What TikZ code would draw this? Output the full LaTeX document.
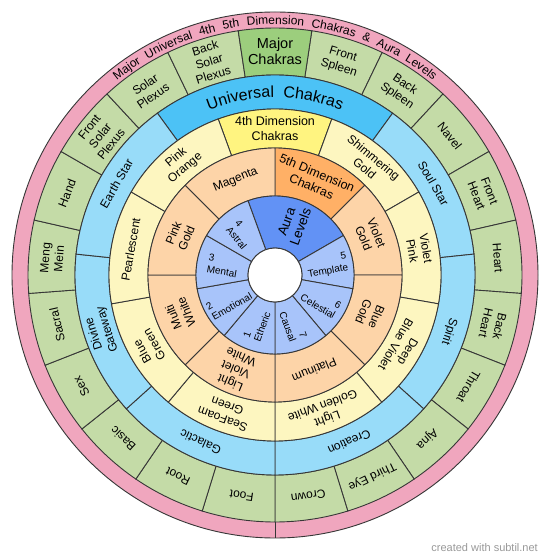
\documentclass[tikz,border=0pt]{standalone}
\usepackage{fontspec}
\setmainfont{Liberation Sans}
\usetikzlibrary{decorations.text}
\definecolor{pinkc}{RGB}{240,166,190}
\definecolor{greenl}{RGB}{196,219,167}
\definecolor{greend}{RGB}{156,206,125}
\definecolor{bluel}{RGB}{152,220,249}
\definecolor{blued}{RGB}{76,194,246}
\definecolor{yell}{RGB}{253,246,192}
\definecolor{yeld}{RGB}{255,244,128}
\definecolor{peachl}{RGB}{253,212,168}
\definecolor{peachd}{RGB}{255,176,102}
\definecolor{aural}{RGB}{168,196,250}
\definecolor{aurad}{RGB}{98,146,245}
\definecolor{edge}{RGB}{55,55,55}
\newcommand\ringsec[5]{\filldraw[fill=#1,draw=edge,line width=0.9pt] (#2:#4pt) arc[start angle=#2,end angle=#3,radius=#4pt] -- (#3:#5pt) arc[start angle=#3,end angle=#2,radius=#5pt] -- cycle;}
\newcommand\tsp{\hskip 7.4pt}
\newcommand\usp{\hskip 9pt}
\tikzset{
  lbl/.style={align=center,inner sep=0pt,font=\fontsize{12}{14}\selectfont},
  biglbl/.style={align=center,inner sep=0pt,font=\fontsize{14.5}{16.5}\selectfont},
  dimlbl/.style={align=center,inner sep=0pt,font=\fontsize{12.5}{14.5}\selectfont},
  albl/.style={inner sep=0pt,font=\fontsize{10}{11.5}\selectfont},
}
\begin{document}
\begin{tikzpicture}
\fill[white] (0,0) rectangle (550pt,560pt);
\useasboundingbox (0,0) rectangle (550pt,560pt);
\begin{scope}[shift={(275pt,285pt)}]
% pink outer ring
\filldraw[fill=pinkc,draw=edge,line width=0.9pt] (0,0) circle[radius=263pt];
\draw[edge,line width=0.9pt] (-90:247pt) -- (-90:263pt);
% green ring
\foreach \k in {1,...,20}{
  \pgfmathsetmacro\a{98.5714-17.142857*\k}
  \pgfmathsetmacro\b{\a-17.142857}
  \ringsec{greenl}{\a}{\b}{247}{200}
}
\ringsec{greend}{98.5714}{81.4286}{247}{200}
% blue ring
\ringsec{blued}{126}{54}{200}{166}
\foreach \k in {0,...,5}{
  \pgfmathsetmacro\a{54-48*\k}
  \pgfmathsetmacro\b{\a-48}
  \ringsec{bluel}{\a}{\b}{200}{166}
}
% yellow ring
\ringsec{yeld}{110}{70}{166}{127}
\foreach \k in {0,...,7}{
  \pgfmathsetmacro\a{70-40*\k}
  \pgfmathsetmacro\b{\a-40}
  \ringsec{yell}{\a}{\b}{166}{127}
}
% peach ring
\ringsec{peachd}{90}{45}{127}{79}
\foreach \k in {0,...,6}{
  \pgfmathsetmacro\a{45-45*\k}
  \pgfmathsetmacro\b{\a-45}
  \ringsec{peachl}{\a}{\b}{127}{79}
}
% aura ring
\ringsec{aurad}{110}{30}{79}{27}
\foreach \k in {0,...,6}{
  \pgfmathsetmacro\a{30-40*\k}
  \pgfmathsetmacro\b{\a-40}
  \ringsec{aural}{\a}{\b}{79}{27}
}
\filldraw[fill=white,draw=edge,line width=0.9pt] (0,0) circle[radius=27pt];

% curved titles
\path[decorate,decoration={text along path,text align=center,
  text={|\fontsize{12}{12}\selectfont|Major{\tsp}Universal{\tsp}4th{\tsp}5th{\tsp}Dimension{\tsp}Chakras{\tsp}{\&}{\tsp}Aura{\tsp}Levels}}]
  (150:250.5pt) arc[start angle=150,end angle=30,radius=250.5pt];
\path[decorate,decoration={text along path,text align=center,
  text={|\fontsize{16}{16}\selectfont|Universal{\usp}Chakras}}]
  (140:177.5pt) arc[start angle=140,end angle=40,radius=177.5pt];

% green labels
\node[biglbl] (g0) at (90:223.5pt) {Major\\Chakras};
\foreach \i/\t in {1/{Front\\Spleen},2/{Back\\Spleen},3/{Navel},4/{Front\\Heart},5/{Heart},6/{Back\\Heart},7/{Throat},8/{Ajna},9/{Third Eye},10/{Crown},11/{Foot},12/{Root},13/{Basic},14/{Sex},15/{Sacral},16/{Meng\\Mein},17/{Hand},18/{Front\\Solar\\Plexus},19/{Solar\\Plexus},20/{Back\\Solar\\Plexus}}{
  \pgfmathsetmacro\a{90-17.142857*\i}
  \node[lbl,rotate=\a-90] (g\i) at (\a:223.5pt) {\t};
}
% blue labels
\foreach \n/\a/\t in {b1/30/{Soul Star},b2/-18/{Spirit},b3/-66/{Creation},b4/-114/{Galactic},b5/-162/{Divine\\Gateway},b6/150/{Earth Star}}{
  \node[lbl,rotate=\a-90] (\n) at (\a:183pt) {\t};
}
% yellow labels
\node[dimlbl] (y0) at (90:146.5pt) {4th Dimension\\Chakras};
\foreach \n/\a/\t in {y1/50/{Shimmering\\Gold},y2/10/{Violet\\Pink},y3/-30/{Deep\\Blue Violet},y4/-70/{Light\\Golden White},y5/-110/{SeaFoam\\Green},y6/-150/{Blue\\Green},y7/170/{Pearlescent},y8/130/{Pink\\Orange}}{
  \node[lbl,rotate=\a-90] (\n) at (\a:146.5pt) {\t};
}
% peach labels
\node[dimlbl,rotate=-22.5] (p0) at (67.5:103pt) {5th Dimension\\Chakras};
\foreach \n/\a/\t in {p1/22.5/{Violet\\Gold},p2/-22.5/{Blue\\Gold},p3/-67.5/{Platinum},p4/-112.5/{Light\\Violet\\White},p5/-157.5/{Multi\\White},p6/157.5/{Pink\\Gold},p7/112.5/{Magenta}}{
  \node[lbl,rotate=\a-90] (\n) at (\a:103pt) {\t};
}
% aura labels
\node[align=center,inner sep=0pt,font=\fontsize{13.5}{15}\selectfont,rotate=70] (a0) at (70:54pt) {Aura\\Levels};
\node[albl,align=right,rotate=10] (a5) at (10:53pt) {5\\Template};
\node[albl,align=right,rotate=-30] (a6) at (-30:53pt) {6\\Celestial};
\node[albl,align=right,rotate=-70] (a7) at (-70:53pt) {7\\Causal};
\node[albl,align=left,rotate=70] (a1) at (-110:53pt) {1\\Etheric};
\node[albl,align=left,rotate=30] (a2) at (-150:53pt) {2\\Emotional};
\node[albl,align=left,rotate=-10] (a3) at (170:53pt) {3\\Mental};
\node[albl,align=left,rotate=-50] (a4) at (130:53pt) {4\\Astral};
\end{scope}
\node[anchor=base east,inner sep=0pt,font=\fontsize{11}{11}\selectfont,text=black!40] (credit) at (538pt,8.5pt) {created with subtil.net};
\end{tikzpicture}
\end{document}
